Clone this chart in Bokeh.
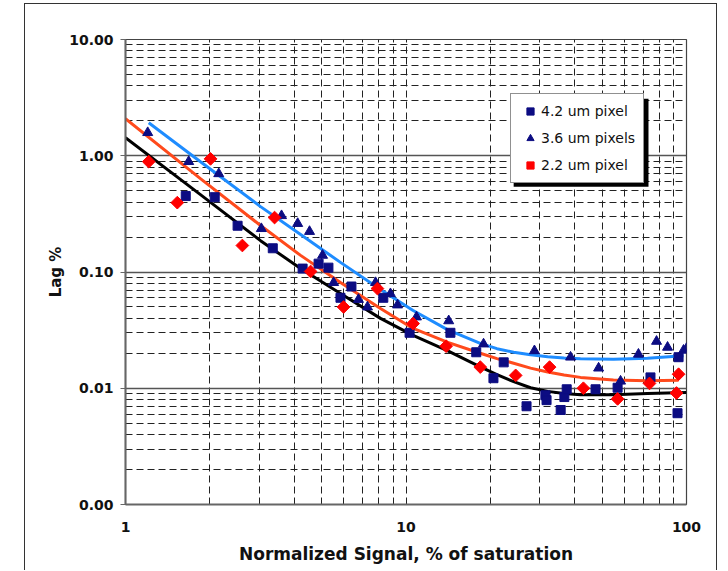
from bokeh.plotting import figure
from bokeh.models import (FixedTicker, PrintfTickFormatter, Legend, LegendItem,
                          BoxAnnotation)
from bokeh.embed import file_html
from bokeh.resources import INLINE
import math

# ---- data ----
sq_x = [1.64, 2.08, 2.51, 3.35, 4.28, 4.88, 5.29, 5.84, 6.39, 8.3, 10.3, 14.4, 17.8, 20.5,
        22.3, 26.9, 31.4, 31.7, 35.6, 36.7, 37.4, 47.4, 56.8, 74.4, 92.9, 93.7]
sq_y = [0.45, 0.44, 0.25, 0.16, 0.107, 0.118, 0.109, 0.060, 0.075, 0.060, 0.030, 0.030, 0.0204,
        0.0122, 0.0167, 0.0070, 0.0087, 0.0079, 0.0065, 0.0084, 0.0098, 0.0098, 0.0101, 0.0124,
        0.0061, 0.0185]

tri_x = [1.20, 1.68, 2.15, 3.05, 3.60, 4.11, 4.53, 5.04, 5.52, 6.77, 7.29, 7.79, 8.80, 9.33,
         10.9, 14.2, 18.9, 28.7, 38.6, 48.6, 58.2, 67.4, 78.2, 85.6, 97.6, 100]
tri_y = [1.58, 0.89, 0.70, 0.236, 0.305, 0.261, 0.223, 0.139, 0.081, 0.058, 0.050, 0.081, 0.065,
         0.052, 0.041, 0.038, 0.024, 0.021, 0.0185, 0.0149, 0.0115, 0.0196, 0.0253, 0.0225,
         0.0212, 0.0220]

dia_x = [1.21, 1.53, 2.01, 2.61, 3.40, 4.57, 5.99, 7.91, 10.6, 13.9, 18.4, 24.6, 32.5, 42.9,
         56.8, 73.8, 92.1, 93.7]
dia_y = [0.89, 0.395, 0.94, 0.169, 0.294, 0.101, 0.050, 0.072, 0.036, 0.023, 0.0152, 0.0129,
         0.0152, 0.0100, 0.0081, 0.0110, 0.0091, 0.0132]

black_x = [1.0, 1.85, 3.03, 4.21, 5.84, 8.11, 10.6, 14.1, 18.4, 21.1, 24.2, 27.8, 32.0, 36.6,
           41.9, 54.9, 72.6, 100]
black_y = [1.43, 0.463, 0.186, 0.107, 0.0654, 0.0399, 0.0285, 0.0210, 0.0153, 0.0131, 0.0114,
           0.0101, 0.0094, 0.0090, 0.0088, 0.0088, 0.0090, 0.0092]
blue_x = [1.21, 1.85, 3.03, 4.21, 5.84, 8.11, 10.6, 14.1, 18.4, 21.1, 24.2, 27.8, 32.0, 36.6,
          41.9, 54.9, 72.6, 97.6]
blue_y = [1.92, 0.888, 0.365, 0.210, 0.121, 0.0708, 0.0467, 0.0318, 0.0243, 0.0219, 0.0204,
          0.0194, 0.0187, 0.0182, 0.0179, 0.0178, 0.0181, 0.0190]
red_x = [1.0, 1.85, 3.03, 4.21, 5.84, 8.11, 10.6, 14.1, 18.4, 21.1, 24.2, 27.8, 32.0, 36.6,
         41.9, 54.9, 72.6, 93.7]
red_y = [2.08, 0.635, 0.251, 0.139, 0.0813, 0.0486, 0.0327, 0.0248, 0.0200, 0.0180, 0.0164,
         0.0149, 0.0138, 0.0130, 0.0124, 0.0118, 0.0116, 0.0117]

series_labels = ["4.2 um pixel", "3.6 um pixels", "2.2 um pixel"]
x_major = [1, 10, 100]
y_major = [0.001, 0.01, 0.1, 1, 10]
mult = [2, 3, 4, 5, 6, 7, 8, 9]
x_minor = [m * d for d in [1, 10] for m in mult]
y_minor = [m * d for d in [0.001, 0.01, 0.1, 1] for m in mult]

FONT = "DejaVu Sans"
NAVY = "#0c0c82"

p = figure(x_axis_type="log", y_axis_type="log", x_range=(1, 100), y_range=(0.001, 10),
           frame_width=561, frame_height=465, min_border_left=100, min_border_right=30,
           min_border_top=35, min_border_bottom=66, output_backend="svg",
           toolbar_location=None, background_fill_color="white", border_fill_color="white")
p.styles = {"margin-left": "24px", "margin-top": "3px",
            "border-left": "1px solid #333", "border-right": "1px solid #333",
            "border-top": "1px solid #333"}

p.outline_line_color = "#444"
p.outline_line_width = 1.2

# axes
p.xaxis.ticker = FixedTicker(ticks=x_major, minor_ticks=x_minor)
p.yaxis.ticker = FixedTicker(ticks=y_major, minor_ticks=y_minor)
p.xaxis.formatter = PrintfTickFormatter(format="%d")
p.yaxis.formatter = PrintfTickFormatter(format="%.2f")
for ax in (p.xaxis[0], p.yaxis[0]):
    ax.axis_line_color = "#666"
    ax.axis_line_width = 2
    ax.minor_tick_line_color = None
    ax.major_label_text_font = FONT
    ax.major_label_text_font_style = "bold"
    ax.major_label_text_font_size = "14px"
    ax.major_label_text_color = "#111"
    ax.axis_label_text_font = FONT
    ax.axis_label_text_font_style = "bold"
    ax.axis_label_text_color = "#111"
p.xaxis.major_tick_out = 0
p.xaxis.major_tick_in = 0
p.xaxis.major_label_standoff = 13
p.xaxis.axis_label = "Normalized Signal, % of saturation"
p.xaxis.axis_label_text_font_size = "17px"
p.xaxis.axis_label_standoff = 9
p.yaxis.major_tick_out = 5
p.yaxis.major_tick_in = 0
p.yaxis.major_tick_line_color = "#666"
p.yaxis.major_label_standoff = 7
p.yaxis.axis_label = "Lag %"
p.yaxis.axis_label_text_font_size = "15px"
p.yaxis.axis_label_standoff = 1

# grids
p.xgrid.grid_line_color = "#222"
p.xgrid.grid_line_dash = "7 4"
p.xgrid.grid_line_width = 1
p.xgrid.minor_grid_line_color = "#222"
p.xgrid.minor_grid_line_dash = "7 4"
p.xgrid.minor_grid_line_width = 1
p.ygrid.grid_line_color = "#555"
p.ygrid.grid_line_width = 1.5
p.ygrid.minor_grid_line_color = "#222"
p.ygrid.minor_grid_line_dash = "7 4"
p.ygrid.minor_grid_line_width = 1

# fitted curves
p.line(black_x, black_y, line_color="black", line_width=3)
p.line(red_x, red_y, line_color="#ff4a1c", line_width=3)
p.line(blue_x, blue_y, line_color="#1e8cff", line_width=3)

# points
r_sq = p.scatter(sq_x, sq_y, marker="square", size=9, fill_color=NAVY, line_color=NAVY)
r_tri = p.scatter(tri_x, tri_y, marker="triangle", size=10, fill_color=NAVY, line_color=NAVY)
r_dia = p.scatter(dia_x, dia_y, marker="square", angle=math.pi / 4, size=9,
                  fill_color="#ff0000", line_color="#ff0000")

# legend drop shadow (decoration)
shadow = BoxAnnotation(left=24.2, right=73.2, top=3.09, bottom=0.542,
                       fill_color="black", fill_alpha=1, line_color=None)
p.add_layout(shadow)

legend = Legend(items=[LegendItem(label=series_labels[0], renderers=[r_sq]),
                       LegendItem(label=series_labels[1], renderers=[r_tri]),
                       LegendItem(label=series_labels[2], renderers=[r_dia])],
                location=(385, 321), orientation="vertical",
                label_text_font=FONT, label_text_font_size="14px", label_text_color="#111",
                glyph_width=22, glyph_height=18, label_height=18, label_standoff=0, spacing=9,
                padding=8, margin=0, border_line_color="#222", border_line_width=1,
                background_fill_color="white", background_fill_alpha=1)
p.add_layout(legend)

open("out.html", "w").write(file_html(p, INLINE))
